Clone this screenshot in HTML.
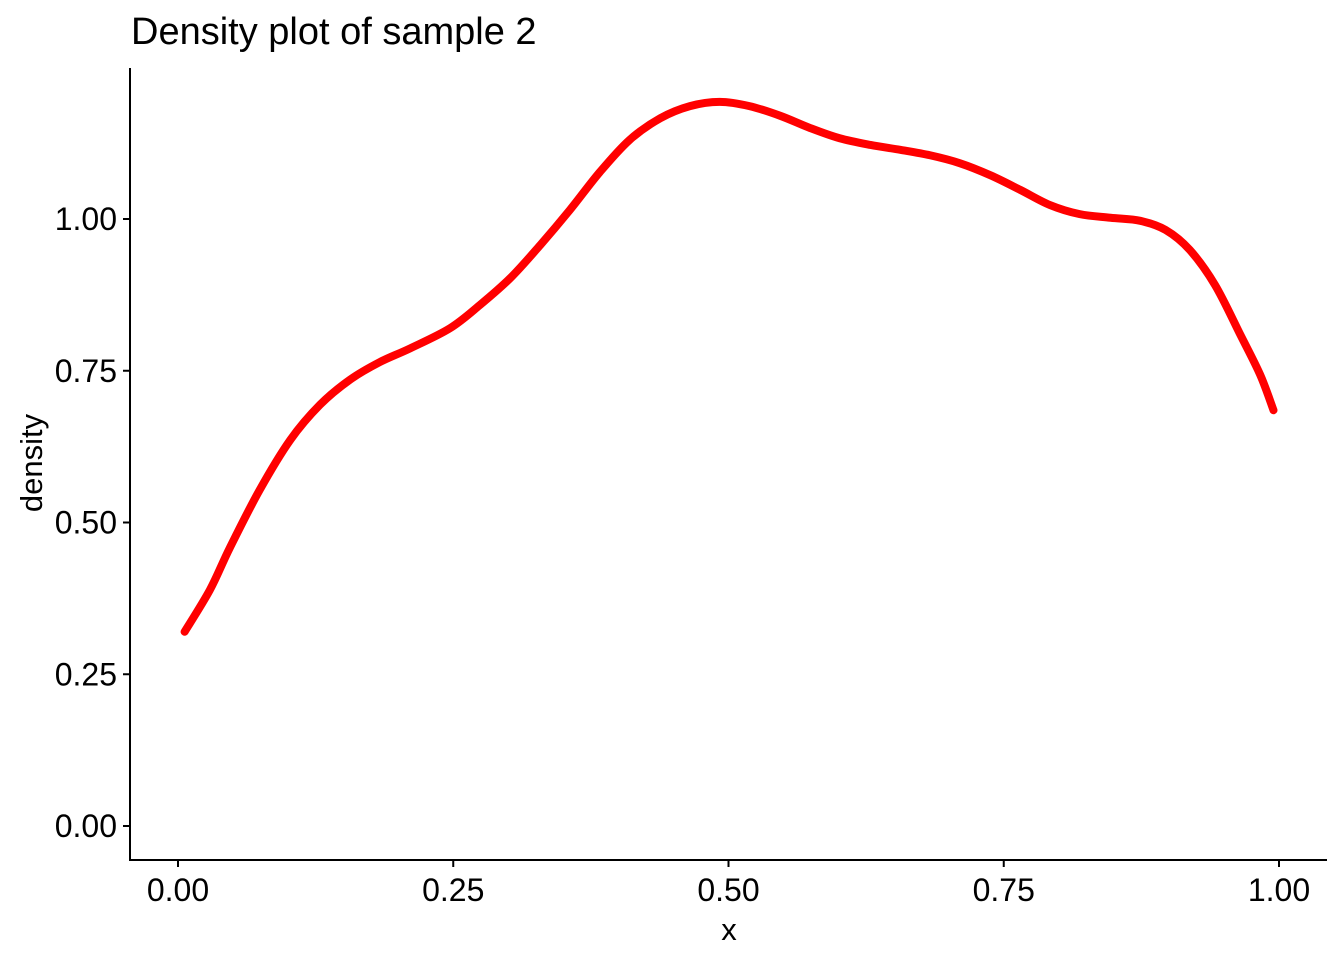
<!DOCTYPE html>
<html><head><meta charset="utf-8"><style>
body{margin:0;background:#fff;}
svg text{font-family:"Liberation Sans",Arial,sans-serif;fill:#000;}
</style></head><body>
<svg width="1344" height="960" xmlns="http://www.w3.org/2000/svg">
<text x="131" y="44" font-size="38">Density plot of sample 2</text>
<g id="axes"></g>
<path id="curve" fill="none" stroke="#ff0000" stroke-width="8" stroke-linecap="round" stroke-linejoin="round"/>
<text x="729" y="940" font-size="31" text-anchor="middle">x</text>
<text transform="translate(42,463) rotate(-90)" font-size="31" text-anchor="middle">density</text>
</svg>
<script>
const xs=[0.006,0.029,0.047,0.074,0.102,0.129,0.156,0.183,0.211,0.247,0.274,0.302,0.329,0.356,0.383,0.410,0.438,0.465,0.492,0.519,0.547,0.574,0.601,0.629,0.656,0.683,0.710,0.738,0.765,0.792,0.819,0.847,0.874,0.897,0.919,0.942,0.965,0.983,0.995];
const ys=[0.320,0.389,0.458,0.553,0.636,0.694,0.735,0.764,0.787,0.820,0.858,0.903,0.957,1.015,1.077,1.130,1.166,1.186,1.193,1.186,1.170,1.150,1.133,1.122,1.114,1.105,1.092,1.072,1.048,1.023,1.008,1.002,0.997,0.982,0.949,0.891,0.809,0.743,0.685];
const xTicks=[0,0.25,0.5,0.75,1];
const xTickLabels=["0.00","0.25","0.50","0.75","1.00"];
const yTicks=[0,0.25,0.5,0.75,1];
const yTickLabels=["0.00","0.25","0.50","0.75","1.00"];
const X=v=>178+v*1101, Y=v=>826-v*607;
const NS="http://www.w3.org/2000/svg";
const g=document.getElementById('axes');
function mk(t,a){const e=document.createElementNS(NS,t);for(const k in a)e.setAttribute(k,a[k]);g.appendChild(e);return e;}
let e=mk('line',{x1:130,y1:68,x2:130,y2:861,stroke:'#000','stroke-width':2});


e=mk('line',{x1:129,y1:860,x2:1327,y2:860,stroke:'#000','stroke-width':2});


xTicks.forEach((v,i)=>{
 let t=mk('line',{x1:X(v),y1:860,x2:X(v),y2:867,stroke:'#000','stroke-width':2});
 
 
 let l=mk('text',{x:X(v),y:901,'font-size':32,'text-anchor':'middle',fill:'#000'});l.textContent=xTickLabels[i];
 
 
});
yTicks.forEach((v,i)=>{
 let t=mk('line',{x1:123,y1:Y(v),x2:130,y2:Y(v),stroke:'#000','stroke-width':2});
 
 
 let l=mk('text',{x:117,y:Y(v)+11,'font-size':32,'text-anchor':'end',fill:'#000'});l.textContent=yTickLabels[i];
 
 
});
const P=xs.map((x,i)=>[X(x),Y(ys[i])]);
let d='M'+P[0][0]+','+P[0][1];
for(let i=0;i<P.length-1;i++){
 const p0=P[Math.max(i-1,0)],p1=P[i],p2=P[i+1],p3=P[Math.min(i+2,P.length-1)];
 const c1=[p1[0]+(p2[0]-p0[0])/6,p1[1]+(p2[1]-p0[1])/6];
 const c2=[p2[0]-(p3[0]-p1[0])/6,p2[1]-(p3[1]-p1[1])/6];
 d+=`C${c1[0]},${c1[1]} ${c2[0]},${c2[1]} ${p2[0]},${p2[1]}`;
}
document.getElementById('curve').setAttribute('d',d);
</script>
</body></html>
